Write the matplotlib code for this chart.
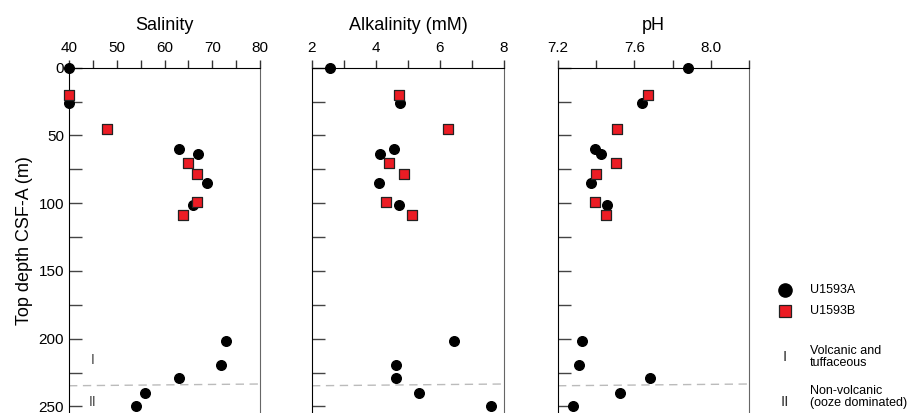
import numpy as np
import matplotlib.pyplot as plt
from matplotlib.lines import Line2D

plt.rcParams['font.family'] = ['Liberation Sans', 'DejaVu Sans']

# Hole U1593A
depth_a = [0, 26, 60, 63.5, 85, 101, 202, 219.5, 229, 240, 249.5]
sal_a = [40, 40, 63, 67, 68.9, 65.9, 72.9, 71.9, 63, 56, 54]
alk_a = [2.55, 4.75, 4.56, 4.12, 4.08, 4.71, 6.43, 4.62, 4.61, 5.35, 7.59]
ph_a = [7.88, 7.642, 7.392, 7.423, 7.375, 7.457, 7.326, 7.308, 7.68, 7.525, 7.281]

# Hole U1593B
depth_b = [20, 45.6, 70.6, 78.7, 99, 108.6]
sal_b = [40, 48, 65, 66.9, 66.9, 63.9]
alk_b = [4.71, 6.25, 4.41, 4.89, 4.31, 5.11]
ph_b = [7.673, 7.509, 7.502, 7.397, 7.394, 7.449]

titles = ['Salinity', 'Alkalinity (mM)', 'pH']
xlims = [(40, 80), (2, 8), (7.2, 8.2)]
xticks = [np.arange(40, 81, 5), np.arange(2, 9, 1), np.arange(7.2, 8.21, 0.2)]
xlabels = [['40', '', '50', '', '60', '', '70', '', '80'],
           ['2', '', '4', '', '6', '', '8'],
           ['7.2', '', '7.6', '', '8.0', '']]
unit_depth = [234.7, 233.4]  # boundary I / II

fig = plt.figure(figsize=(9.14, 4.13), dpi=100)
lefts = [69, 312, 558]
widths = [191, 192, 191]
H = 413.0
top = 67.7
axes = []
for i in range(3):
    ax = fig.add_axes([lefts[i] / 914, 0, widths[i] / 914, (H - top) / H])
    axes.append(ax)

xa = [sal_a, alk_a, ph_a]
xb = [sal_b, alk_b, ph_b]
for i, ax in enumerate(axes):
    ax.set_xlim(*xlims[i])
    ax.set_ylim(254.8, 0)
    ax.scatter(xa[i], depth_a, s=48, c='black', marker='o', zorder=5, clip_on=False)
    ax.scatter(xb[i], depth_b, s=42, c='#ec1c24', edgecolors='#222222', linewidths=0.9,
               marker='s', zorder=6, clip_on=False)
    ax.plot(xlims[i], unit_depth, ls=(0, (6, 4)), color='#bbbbbb', lw=1.0, zorder=1)
    ax.xaxis.tick_top()
    ax.set_xticks(xticks[i])
    ax.set_xticklabels(xlabels[i])
    ax.tick_params(axis='x', direction='out', length=6, width=1, color='#333333',
                   labelsize=11, pad=3)
    ax.set_yticks([0, 25, 50, 75, 100, 125, 150, 175, 200, 225, 250])
    ax.tick_params(axis='y', direction='in', length=9, width=1, color='#444444', labelsize=11)
    ax.spines['bottom'].set_visible(False)
    ax.spines['right'].set_color('#666666')
    ax.set_title(titles[i], fontsize=13, pad=27)
    if i == 0:
        ax.set_yticklabels(['0', '', '50', '', '100', '', '150', '', '200', '', '250'])
        ax.set_ylabel('Top depth CSF-A (m)', fontsize=13, labelpad=4)
        ax.text(45, 216, 'I', fontsize=10, ha='center', va='center', color='#444444')
        ax.text(45, 246.5, 'II', fontsize=10, ha='center', va='center', color='#444444')
    else:
        ax.set_yticklabels([])

# legend column on the right
fig.add_artist(Line2D([785 / 914], [1 - 290 / H], marker='o', ms=9.5, color='black',
                      ls='none', transform=fig.transFigure))
fig.add_artist(Line2D([785 / 914], [1 - 311 / H], marker='s', ms=8.5, mfc='#ec1c24',
                      mec='#222222', mew=0.9, ls='none', transform=fig.transFigure))
fig.text(810 / 914, 1 - 290 / H, 'U1593A', fontsize=9, va='center')
fig.text(810 / 914, 1 - 311 / H, 'U1593B', fontsize=9, va='center')
fig.text(785 / 914, 1 - 357 / H, 'I', fontsize=11, ha='center', va='center', color='#333333')
fig.text(810 / 914, 1 - 357 / H, 'Volcanic and\ntuffaceous', fontsize=9, va='center', linespacing=1.0)
fig.text(785 / 914, 1 - 402 / H, 'II', fontsize=11, ha='center', va='center', color='#333333')
fig.text(810 / 914, 1 - 397 / H, 'Non-volcanic\n(ooze dominated)', fontsize=9, va='center', linespacing=1.0)

fig.savefig('out.png', dpi=100)
